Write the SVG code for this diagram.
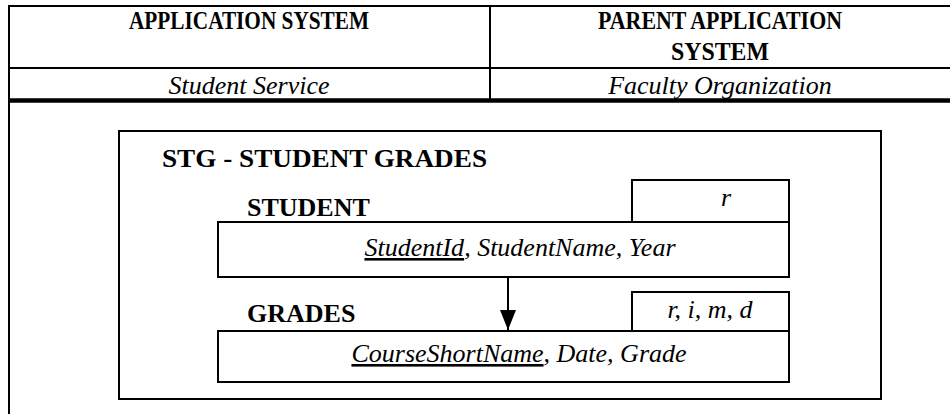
<svg xmlns="http://www.w3.org/2000/svg" width="950" height="414" viewBox="0 0 950 414">
<style>
.b{font-family:"Liberation Serif","Times New Roman",serif;font-weight:bold;font-size:26px;fill:#000}
.h{font-family:"Liberation Serif","Times New Roman",serif;font-weight:bold;font-size:25px;fill:#000}
.i{font-family:"Liberation Serif","Times New Roman",serif;font-style:italic;font-size:26px;fill:#000}
.ln{stroke:#000;fill:none}
.box{fill:#fff;stroke:#000;stroke-width:2}
</style>
<defs>
<marker id="ah" markerWidth="20" markerHeight="16" refX="20" refY="8" orient="auto" markerUnits="userSpaceOnUse" viewBox="0 0 20 16">
<path d="M0,0 L20,8 L0,16 Z" fill="#000"/>
</marker>
</defs>
<rect width="950" height="414" fill="#fff"/>
<g id="header">
<line class="ln" x1="8" y1="6" x2="950" y2="6" stroke-width="2"/>
<line class="ln" x1="9" y1="5" x2="9" y2="414" stroke-width="2"/>
<line class="ln" x1="8" y1="68" x2="950" y2="68" stroke-width="2"/>
<line class="ln" x1="490" y1="6" x2="490" y2="100" stroke-width="2"/>
<line class="ln" x1="8" y1="100.5" x2="950" y2="100.5" stroke-width="4.5"/>
<text class="h" x="249" y="29" text-anchor="middle" textLength="240" lengthAdjust="spacingAndGlyphs">APPLICATION SYSTEM</text>
<text class="h" x="720" y="29" text-anchor="middle" textLength="244" lengthAdjust="spacingAndGlyphs">PARENT APPLICATION</text>
<text class="h" x="720" y="60" text-anchor="middle" textLength="98" lengthAdjust="spacingAndGlyphs">SYSTEM</text>
<text class="i" x="249" y="94" text-anchor="middle">Student Service</text>
<text class="i" x="720" y="94" text-anchor="middle">Faculty Organization</text>
</g>
<g id="frame">
<rect x="119" y="131" width="762" height="268" class="box"/>
<text class="b" x="162" y="167" textLength="325" lengthAdjust="spacingAndGlyphs">STG - STUDENT GRADES</text>
</g>
<g id="student">
<rect x="632" y="180" width="157" height="42" class="box"/>
<rect x="218" y="222" width="571" height="55" class="box"/>
<text class="b" x="247" y="216">STUDENT</text>
<text class="i" x="726" y="206" text-anchor="middle">r</text>
<text class="i" x="520" y="256" text-anchor="middle"><tspan text-decoration="underline">StudentId</tspan>, StudentName, Year</text>
</g>
<g id="grades">
<rect x="632" y="292" width="157" height="39" class="box"/>
<rect x="218" y="331" width="571" height="51" class="box"/>
<text class="b" x="247" y="322">GRADES</text>
<text class="i" x="710" y="318" text-anchor="middle">r, i, m, d</text>
<text class="i" x="519" y="362" text-anchor="middle"><tspan text-decoration="underline">CourseShortName</tspan>, Date, Grade</text>
</g>
<g id="connectors">
<line class="ln" x1="508" y1="277" x2="508" y2="330" stroke-width="2" marker-end="url(#ah)"/>
</g>
</svg>
